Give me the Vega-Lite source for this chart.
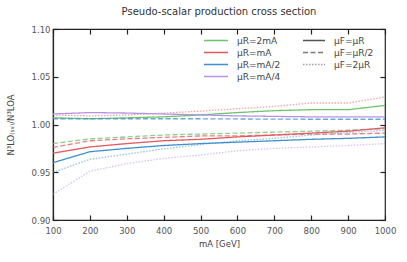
{
  "$schema": "https://vega.github.io/schema/vega-lite/v6.json",
  "width": 332,
  "height": 191,
  "autosize": {"type": "none"},
  "padding": {"left": 53, "top": 29, "right": 22, "bottom": 42},
  "title": {"text": "Pseudo-scalar production cross section", "fontSize": 10, "font": "DejaVu Sans", "fontWeight": "normal", "color": "#333", "offset": 8},
  "config": {
    "font": "DejaVu Sans",
    "view": {"stroke": "#222", "strokeWidth": 1.2},
    "axis": {"domainColor": "#222", "domainWidth": 1.2, "tickColor": "#222", "tickWidth": 1.2, "tickSize": -5, "labelColor": "#555", "labelFont": "DejaVu Sans", "labelFontSize": 8.5, "labelFlush": false, "labelOverlap": false, "titleFont": "DejaVu Sans", "titleFontSize": 8.5, "titleColor": "#444", "titleFontWeight": "normal", "grid": false},
    "legend": {"labelFont": "DejaVu Sans", "labelFontSize": 9, "labelColor": "#444"}
  },
  "datasets": {
    "curves": [
      {"m":100,"muR":"μR=2mA","muF":"μF=μR","r":1.007},{"m":200,"muR":"μR=2mA","muF":"μF=μR","r":1.006},{"m":300,"muR":"μR=2mA","muF":"μF=μR","r":1.007},{"m":400,"muR":"μR=2mA","muF":"μF=μR","r":1.008},{"m":500,"muR":"μR=2mA","muF":"μF=μR","r":1.010},{"m":600,"muR":"μR=2mA","muF":"μF=μR","r":1.0125},{"m":700,"muR":"μR=2mA","muF":"μF=μR","r":1.0145},{"m":800,"muR":"μR=2mA","muF":"μF=μR","r":1.0155},{"m":900,"muR":"μR=2mA","muF":"μF=μR","r":1.0155},{"m":1000,"muR":"μR=2mA","muF":"μF=μR","r":1.020},
      {"m":100,"muR":"μR=2mA","muF":"μF=μR/2","r":0.980},{"m":200,"muR":"μR=2mA","muF":"μF=μR/2","r":0.985},{"m":300,"muR":"μR=2mA","muF":"μF=μR/2","r":0.987},{"m":400,"muR":"μR=2mA","muF":"μF=μR/2","r":0.989},{"m":500,"muR":"μR=2mA","muF":"μF=μR/2","r":0.990},{"m":600,"muR":"μR=2mA","muF":"μF=μR/2","r":0.991},{"m":700,"muR":"μR=2mA","muF":"μF=μR/2","r":0.992},{"m":800,"muR":"μR=2mA","muF":"μF=μR/2","r":0.993},{"m":900,"muR":"μR=2mA","muF":"μF=μR/2","r":0.994},{"m":1000,"muR":"μR=2mA","muF":"μF=μR/2","r":0.9958},
      {"m":100,"muR":"μR=mA","muF":"μF=μR","r":0.970},{"m":200,"muR":"μR=mA","muF":"μF=μR","r":0.9765},{"m":300,"muR":"μR=mA","muF":"μF=μR","r":0.980},{"m":400,"muR":"μR=mA","muF":"μF=μR","r":0.983},{"m":500,"muR":"μR=mA","muF":"μF=μR","r":0.9845},{"m":600,"muR":"μR=mA","muF":"μF=μR","r":0.987},{"m":700,"muR":"μR=mA","muF":"μF=μR","r":0.989},{"m":800,"muR":"μR=mA","muF":"μF=μR","r":0.991},{"m":900,"muR":"μR=mA","muF":"μF=μR","r":0.993},{"m":1000,"muR":"μR=mA","muF":"μF=μR","r":0.9965},
      {"m":100,"muR":"μR=mA","muF":"μF=μR/2","r":0.976},{"m":200,"muR":"μR=mA","muF":"μF=μR/2","r":0.983},{"m":300,"muR":"μR=mA","muF":"μF=μR/2","r":0.985},{"m":400,"muR":"μR=mA","muF":"μF=μR/2","r":0.9865},{"m":500,"muR":"μR=mA","muF":"μF=μR/2","r":0.988},{"m":600,"muR":"μR=mA","muF":"μF=μR/2","r":0.988},{"m":700,"muR":"μR=mA","muF":"μF=μR/2","r":0.989},{"m":800,"muR":"μR=mA","muF":"μF=μR/2","r":0.990},{"m":900,"muR":"μR=mA","muF":"μF=μR/2","r":0.990},{"m":1000,"muR":"μR=mA","muF":"μF=μR/2","r":0.991},
      {"m":100,"muR":"μR=mA","muF":"μF=2μR","r":1.010},{"m":200,"muR":"μR=mA","muF":"μF=2μR","r":1.009},{"m":300,"muR":"μR=mA","muF":"μF=2μR","r":1.010},{"m":400,"muR":"μR=mA","muF":"μF=2μR","r":1.012},{"m":500,"muR":"μR=mA","muF":"μF=2μR","r":1.014},{"m":600,"muR":"μR=mA","muF":"μF=2μR","r":1.0165},{"m":700,"muR":"μR=mA","muF":"μF=2μR","r":1.019},{"m":800,"muR":"μR=mA","muF":"μF=2μR","r":1.0225},{"m":900,"muR":"μR=mA","muF":"μF=2μR","r":1.0225},{"m":1000,"muR":"μR=mA","muF":"μF=2μR","r":1.029},
      {"m":100,"muR":"μR=mA/2","muF":"μF=μR","r":0.960},{"m":200,"muR":"μR=mA/2","muF":"μF=μR","r":0.9715},{"m":300,"muR":"μR=mA/2","muF":"μF=μR","r":0.975},{"m":400,"muR":"μR=mA/2","muF":"μF=μR","r":0.978},{"m":500,"muR":"μR=mA/2","muF":"μF=μR","r":0.980},{"m":600,"muR":"μR=mA/2","muF":"μF=μR","r":0.9815},{"m":700,"muR":"μR=mA/2","muF":"μF=μR","r":0.983},{"m":800,"muR":"μR=mA/2","muF":"μF=μR","r":0.9845},{"m":900,"muR":"μR=mA/2","muF":"μF=μR","r":0.9855},{"m":1000,"muR":"μR=mA/2","muF":"μF=μR","r":0.987},
      {"m":100,"muR":"μR=mA/2","muF":"μF=μR/2","r":1.006},{"m":200,"muR":"μR=mA/2","muF":"μF=μR/2","r":1.006},{"m":300,"muR":"μR=mA/2","muF":"μF=μR/2","r":1.006},{"m":400,"muR":"μR=mA/2","muF":"μF=μR/2","r":1.006},{"m":500,"muR":"μR=mA/2","muF":"μF=μR/2","r":1.006},{"m":600,"muR":"μR=mA/2","muF":"μF=μR/2","r":1.0058},{"m":700,"muR":"μR=mA/2","muF":"μF=μR/2","r":1.0056},{"m":800,"muR":"μR=mA/2","muF":"μF=μR/2","r":1.0055},{"m":900,"muR":"μR=mA/2","muF":"μF=μR/2","r":1.0055},{"m":1000,"muR":"μR=mA/2","muF":"μF=μR/2","r":1.0055},
      {"m":100,"muR":"μR=mA/2","muF":"μF=2μR","r":0.950},{"m":200,"muR":"μR=mA/2","muF":"μF=2μR","r":0.9635},{"m":300,"muR":"μR=mA/2","muF":"μF=2μR","r":0.969},{"m":400,"muR":"μR=mA/2","muF":"μF=2μR","r":0.9745},{"m":500,"muR":"μR=mA/2","muF":"μF=2μR","r":0.979},{"m":600,"muR":"μR=mA/2","muF":"μF=2μR","r":0.983},{"m":700,"muR":"μR=mA/2","muF":"μF=2μR","r":0.9855},{"m":800,"muR":"μR=mA/2","muF":"μF=2μR","r":0.989},{"m":900,"muR":"μR=mA/2","muF":"μF=2μR","r":0.9915},{"m":1000,"muR":"μR=mA/2","muF":"μF=2μR","r":0.994},
      {"m":100,"muR":"μR=mA/4","muF":"μF=μR","r":1.011},{"m":200,"muR":"μR=mA/4","muF":"μF=μR","r":1.0125},{"m":300,"muR":"μR=mA/4","muF":"μF=μR","r":1.012},{"m":400,"muR":"μR=mA/4","muF":"μF=μR","r":1.011},{"m":500,"muR":"μR=mA/4","muF":"μF=μR","r":1.010},{"m":600,"muR":"μR=mA/4","muF":"μF=μR","r":1.009},{"m":700,"muR":"μR=mA/4","muF":"μF=μR","r":1.0085},{"m":800,"muR":"μR=mA/4","muF":"μF=μR","r":1.008},{"m":900,"muR":"μR=mA/4","muF":"μF=μR","r":1.008},{"m":1000,"muR":"μR=mA/4","muF":"μF=μR","r":1.008},
      {"m":100,"muR":"μR=mA/4","muF":"μF=2μR","r":0.927},{"m":200,"muR":"μR=mA/4","muF":"μF=2μR","r":0.951},{"m":300,"muR":"μR=mA/4","muF":"μF=2μR","r":0.959},{"m":400,"muR":"μR=mA/4","muF":"μF=2μR","r":0.9645},{"m":500,"muR":"μR=mA/4","muF":"μF=2μR","r":0.968},{"m":600,"muR":"μR=mA/4","muF":"μF=2μR","r":0.9725},{"m":700,"muR":"μR=mA/4","muF":"μF=2μR","r":0.975},{"m":800,"muR":"μR=mA/4","muF":"μF=2μR","r":0.9765},{"m":900,"muR":"μR=mA/4","muF":"μF=2μR","r":0.978},{"m":1000,"muR":"μR=mA/4","muF":"μF=2μR","r":0.980}
    ]
  },
  "resolve": {"axis": {"x": "independent", "y": "independent"}},
  "layer": [
    {
      "data": {"name": "curves"},
      "mark": {"type": "line", "strokeWidth": 1.3},
      "encoding": {
        "x": {"field": "m", "type": "quantitative", "scale": {"domain": [100, 1000], "nice": false, "zero": false}, "axis": {"orient": "bottom", "values": [100,200,300,400,500,600,700,800,900,1000], "format": "d", "title": "mA [GeV]", "labelPadding": 11, "titleY": 19}},
        "y": {"field": "r", "type": "quantitative", "scale": {"domain": [0.9, 1.1], "nice": false, "zero": false}, "axis": {"orient": "left", "values": [0.9,0.95,1.0,1.05,1.1], "format": ".2f", "title": "N³LO₍ₛᵥ₎/N³LOA", "labelPadding": 8, "titleX": -38}},
        "color": {"field": "muR", "type": "nominal", "scale": {"domain": ["μR=2mA","μR=mA","μR=mA/2","μR=mA/4"], "range": ["#6cc36c","#e4585e","#3f8fcd","#b592e3"]}, "legend": {"orient": "none", "legendX": 150, "legendY": 6, "title": null, "symbolType": "stroke", "symbolSize": 576, "symbolStrokeWidth": 1.5, "clipHeight": 11, "rowPadding": 1, "labelOffset": 8, "padding": 0}},
        "strokeDash": {"field": "muF", "type": "nominal", "scale": {"domain": ["μF=μR","μF=μR/2","μF=2μR"], "range": [[1,0],[5,2.5],[1.5,1.5]]}, "legend": {"orient": "none", "legendX": 249, "legendY": 6, "title": null, "symbolType": "stroke", "symbolSize": 484, "symbolStrokeWidth": 1.3, "symbolStrokeColor": "#555", "clipHeight": 11, "rowPadding": 1, "labelOffset": 8, "padding": 0}},
        "opacity": {"field": "muF", "type": "nominal", "scale": {"domain": ["μF=μR","μF=μR/2","μF=2μR"], "range": [1, 0.55, 0.6]}, "legend": null}
      }
    },
    {
      "data": {"name": "curves"},
      "mark": {"type": "point", "opacity": 0},
      "encoding": {
        "x": {"field": "m", "type": "quantitative", "scale": {"domain": [100, 1000], "nice": false, "zero": false}, "axis": {"orient": "top", "values": [100,200,300,400,500,600,700,800,900,1000], "labels": false, "title": null, "domain": false}},
        "y": {"field": "r", "type": "quantitative", "scale": {"domain": [0.9, 1.1], "nice": false, "zero": false}, "axis": {"orient": "right", "values": [0.9,0.95,1.0,1.05,1.1], "labels": false, "title": null, "domain": false}}
      }
    },
    {
      "mark": {"type": "rule", "color": "#444", "strokeWidth": 1},
      "encoding": {"y": {"datum": 1.0, "type": "quantitative", "axis": null}}
    },
    {
      "mark": {"type": "rect", "color": "#f5f5f5"},
      "encoding": {
        "x": {"datum": 490, "type": "quantitative", "axis": null},
        "x2": {"datum": 986},
        "y": {"datum": 1.0958, "type": "quantitative", "axis": null},
        "y2": {"datum": 1.0424}
      }
    },
    {
      "mark": {"type": "text", "text": "LHC 13 TeV", "align": "left", "baseline": "middle", "fontSize": 9, "color": "#555"},
      "encoding": {
        "x": {"datum": 168, "type": "quantitative", "axis": null},
        "y": {"datum": 1.079, "type": "quantitative", "axis": null}
      }
    }
  ]
}
